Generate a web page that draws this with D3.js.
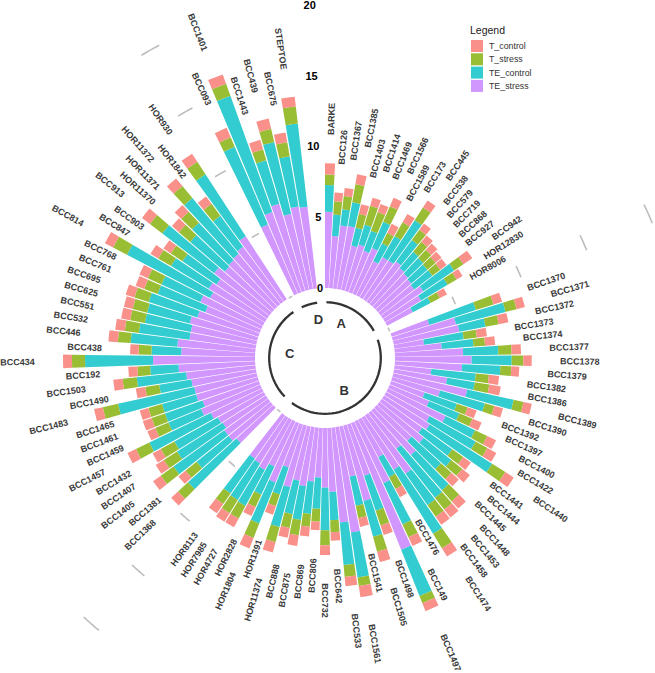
<!DOCTYPE html>
<html><head><meta charset="utf-8">
<script src="https://cdn.jsdelivr.net/npm/d3@7/dist/d3.min.js"></script>
<style>body{margin:0;background:#fff}svg{display:block}</style>
</head><body><svg id="chart" width="655" height="673"></svg>
<script>
// ---------- data ----------
const groupNames = ["A", "B", "C", "D"];
const namesA = ["BARKE","BCC126","BCC1367","BCC1385","BCC1403","BCC1414","BCC1469","BCC1566","BCC1589","BCC173","BCC445","BCC538","BCC579","BCC719","BCC868","BCC927","BCC942","HOR12830","HOR8006"];
const namesB = ["BCC1370","BCC1371","BCC1372","BCC1373","BCC1374","BCC1377","BCC1378","BCC1379","BCC1382","BCC1386","BCC1389","BCC1390","BCC1392","BCC1397","BCC1400","BCC1422","BCC1440","BCC1441","BCC1444","BCC1445","BCC1448","BCC1453","BCC1458","BCC1474","BCC1476","BCC149","BCC1497","BCC1498","BCC1505","BCC1541","BCC1561","BCC533","BCC642","BCC732","BCC806","BCC869","BCC875","BCC888","HOR11374","HOR1391","HOR1804","HOR2828","HOR4727","HOR7985","HOR8113"];
const namesC = ["BCC1368","BCC1381","BCC1405","BCC1407","BCC1432","BCC1457","BCC1459","BCC1461","BCC1465","BCC1483","BCC1490","BCC1503","BCC192","BCC434","BCC438","BCC446","BCC532","BCC551","BCC625","BCC695","BCC761","BCC768","BCC814","BCC847","BCC903","BCC913","HOR11370","HOR11371","HOR11372","HOR1842","HOR930"];
const namesD = ["BCC093","BCC1401","BCC1443","BCC439","BCC675","STEPTOE"];

const seriesKeys = ["T_control", "T_stress", "TE_control", "TE_stress"];
const seriesColors = ["#F9918A", "#99BE33", "#33CCD0", "#D296FF"];

const TE_stress = [
 5.37,3.67,4.46,4.5,3.2,3.4,3.1,3.5,2.7,3.24,3.27,3.52,3.3,3.2,3.1,3.0,3.44,2.96,2.04,
 2.78,4.6,4.72,2.11,3.32,4.8,5.4,4.74,2.6,3.79,5.33,3.5,2.5,3.0,4.5,3.5,3.8,3.5,4.0,3.3,4.2,3.2,5.0,4.3,3.0,4.8,9.6,3.8,5.5,3.6,7.5,6.7,4.5,4.2,3.5,3.8,4.2,3.9,4.5,3.2,4.5,3.5,4.0,3.8,3.7,
 3.5,3.8,3.8,3.6,3.7,4.0,4.5,4.2,4.5,4.5,4.6,4.9,5.4,7.18,5.2,5.5,4.7,4.7,4.9,4.5,4.1,4.7,4.2,4.6,4.3,4.9,4.4,4.5,4.6,4.8,5.3,
 5.3,6.0,6.4,5.5,5.9,5.8];
const TE_control = [
 1.88,1.52,1.16,1.7,1.3,1.45,1.5,2.0,1.39,1.71,3.38,1.86,1.5,1.5,1.5,1.6,2.62,2.17,1.42,
 3.44,3.59,1.87,2.82,2.24,2.48,2.82,2.7,3.15,1.96,3.35,3.27,2.4,2.3,2.3,3.7,5.2,2.6,2.5,2.8,3.3,4.4,2.7,5.3,1.6,3.2,3.5,2.6,2.6,2.1,3.2,3.0,2.0,3.0,2.2,2.3,2.4,2.4,2.9,2.0,3.1,2.2,2.9,3.0,3.0,
 4.6,2.9,4.4,3.8,3.5,4.8,2.5,2.8,2.5,5.5,2.3,3.5,2.0,4.79,2.1,3.3,3.6,3.3,3.1,3.6,3.6,3.0,6.6,3.1,2.9,4.6,3.2,3.6,5.1,2.7,5.2,
 5.95,8.7,3.2,5.2,3.6,5.9];
const T_stress = [
 0.75,0.94,0.93,1.3,1.0,1.4,1.4,1.2,0.83,1.13,1.06,0.9,0.9,0.8,0.75,0.7,0.79,0.74,0.74,
 1.31,0.81,0.94,0.94,0.82,0.94,0.82,0.77,0.93,1.04,0.71,0.7,0.8,1.0,0.95,0.95,1.1,0.95,1.0,1.0,1.05,1.05,1.0,1.2,0.95,1.0,0.55,1.1,1.1,0.9,0.6,0.85,0.85,1.06,0.9,0.9,1.1,1.0,1.1,0.85,1.1,0.95,1.0,1.1,0.9,
 0.95,1.0,1.1,1.1,1.1,1.05,1.0,1.0,1.0,1.1,1.0,1.0,0.9,0.92,0.9,0.9,1.0,1.05,1.05,1.05,1.0,1.05,1.1,1.05,1.0,1.1,1.05,1.05,1.1,1.05,1.05,
 0.72,0.9,0.8,0.95,1.0,1.2];
const T_control = [
 0.78,0.62,0.58,0.7,0.7,0.6,0.6,0.65,0.7,0.68,0.6,0.55,0.58,0.59,0.55,0.55,0.75,0.48,0.56,
 0.63,0.6,0.7,0.71,0.71,0.66,0.59,0.56,0.72,0.82,0.6,0.63,0.67,0.7,0.69,0.72,0.7,0.66,0.69,0.7,0.68,0.71,0.69,0.68,0.65,0.68,0.6,0.7,0.75,0.62,0.8,0.65,0.6,0.68,0.6,0.7,0.75,0.7,0.75,0.65,0.8,0.7,0.7,0.7,0.8,
 0.65,0.64,0.67,0.68,0.65,0.66,0.6,0.65,0.63,0.63,0.67,0.66,0.64,0.63,0.6,0.67,0.68,0.65,0.64,0.65,0.65,0.65,0.65,0.63,0.61,0.7,0.65,0.65,0.7,0.65,0.69,
 0.73,0.7,0.7,0.75,0.7,0.7];

const tickValues = [0, 5, 10, 15, 20];
const tickLabels = ["0", "5", "10", "15", "20"];
const legendTitle = "Legend";
const emptyBar = 2;

// ---------- build rows ----------
const groupLists = [namesA, namesB, namesC, namesD];
const rows = [];
const groupInfo = [];
let id = 1, k = 0;
groupLists.forEach((list, gi) => {
  const start = id;
  list.forEach(name => {
    rows.push({id: id, name: name, group: groupNames[gi],
      TE_stress: TE_stress[k], TE_control: TE_control[k], T_stress: T_stress[k], T_control: T_control[k]});
    id++; k++;
  });
  groupInfo.push({group: groupNames[gi], start: start, end: id - 1});
  id += emptyBar;
});
const N = id - 1; // 109
rows.forEach(r => r.tot = r.TE_stress + r.TE_control + r.T_stress + r.T_control);

// ---------- geometry ----------
const cx = 325, cy = 358;
const svg = d3.select("#chart");
const g = svg.append("g").attr("transform", `translate(${cx},${cy})`);
const ang = d3.scaleLinear().domain([0.55, N + 0.45]).range([0, 2 * Math.PI]);
const rad = d3.scaleLinear().domain([0, 20]).range([70, 354]);
const font = "'Liberation Sans', Arial, sans-serif";

// bars
const stackKeys = ["TE_stress", "TE_control", "T_stress", "T_control"];
const stacked = d3.stack().keys(stackKeys)(rows);
const color = d3.scaleOrdinal().domain(seriesKeys).range(seriesColors);
const arc = d3.arc()
  .innerRadius(d => rad(d[0])).outerRadius(d => rad(d[1]))
  .startAngle(d => ang(d.data.id - 0.45)).endAngle(d => ang(d.data.id + 0.45));
g.append("g").selectAll("g").data(stacked).join("g")
  .attr("fill", s => color(s.key))
  .selectAll("path").data(s => s).join("path").attr("d", arc);

// grid segments in the gaps
const lineR = d3.lineRadial().curve(d3.curveLinear);
const gridG = g.append("g");
for (let i = 1; i < groupInfo.length; i++) {
  const a0 = ang(groupInfo[i - 1].end + 1), a1 = ang(groupInfo[i].start - 1);
  tickValues.forEach(v => {
    const pts = d3.range(0, 11).map(j => [a0 + (a1 - a0) * j / 10, rad(v)]);
    gridG.append("path").attr("d", lineR(pts)).attr("fill", "none")
      .attr("stroke", "#bdbdbd").attr("stroke-width", 1.6);
  });
}

// tick labels
const aTick = ang(N);
g.append("g").selectAll("text").data(tickValues).join("text")
  .attr("x", v => rad(v) * Math.sin(aTick))
  .attr("y", v => -rad(v) * Math.cos(aTick))
  .attr("dy", "0.4em").attr("text-anchor", "end")
  .attr("font-family", font).attr("font-weight", "bold").attr("font-size", 11)
  .attr("fill", "#000").text((v, i) => tickLabels[i]);

// group baselines and names
const rBase = rad(-1), rName = rad(-2.1);
groupInfo.forEach((gi, i) => {
  const a0 = ang(gi.start), a1 = ang(gi.end);
  const pts = d3.range(0, 41).map(j => [a0 + (a1 - a0) * j / 40, rBase]);
  g.append("path").attr("d", lineR(pts)).attr("fill", "none")
    .attr("stroke", "#333").attr("stroke-width", 2.3);
  const at = ang((gi.start + gi.end) / 2);
  g.append("text")
    .attr("x", rName * Math.sin(at)).attr("y", -rName * Math.cos(at))
    .attr("dy", "0.35em").attr("text-anchor", i < 2 ? "end" : "start")
    .attr("font-family", font).attr("font-weight", "bold").attr("font-size", 13)
    .attr("fill", "#333").text(gi.group);
});

// bar labels
g.append("g").selectAll("text").data(rows).join("text")
  .each(function(d) {
    const a = ang(d.id), r = rad(d.tot + 2);
    let angle = 90 - 360 * (d.id - 0.5) / N;
    let anchor = "start";
    if (angle < -90) { angle += 180; anchor = "end"; }
    d3.select(this)
      .attr("transform", `translate(${r * Math.sin(a)},${-r * Math.cos(a)}) rotate(${-angle})`)
      .attr("text-anchor", anchor);
  })
  .attr("dy", "0.35em")
  .attr("font-family", font).attr("font-weight", "bold").attr("font-size", 9)
  .attr("fill", "#3a3a3a").text(d => d.name);

// legend
const lg = svg.append("g").attr("transform", "translate(470,0)");
lg.append("text").attr("x", 0).attr("y", 34).attr("font-family", font)
  .attr("font-size", 10.5).attr("fill", "#222").text(legendTitle);
seriesKeys.forEach((key, i) => {
  lg.append("rect").attr("x", 1).attr("y", 40 + i * 13.3).attr("width", 12).attr("height", 12)
    .attr("fill", color(key));
  lg.append("text").attr("x", 19).attr("y", 46 + i * 13.3).attr("dy", "0.35em")
    .attr("font-family", font).attr("font-size", 8.8).attr("fill", "#333").text(key);
});
</script></body></html>
